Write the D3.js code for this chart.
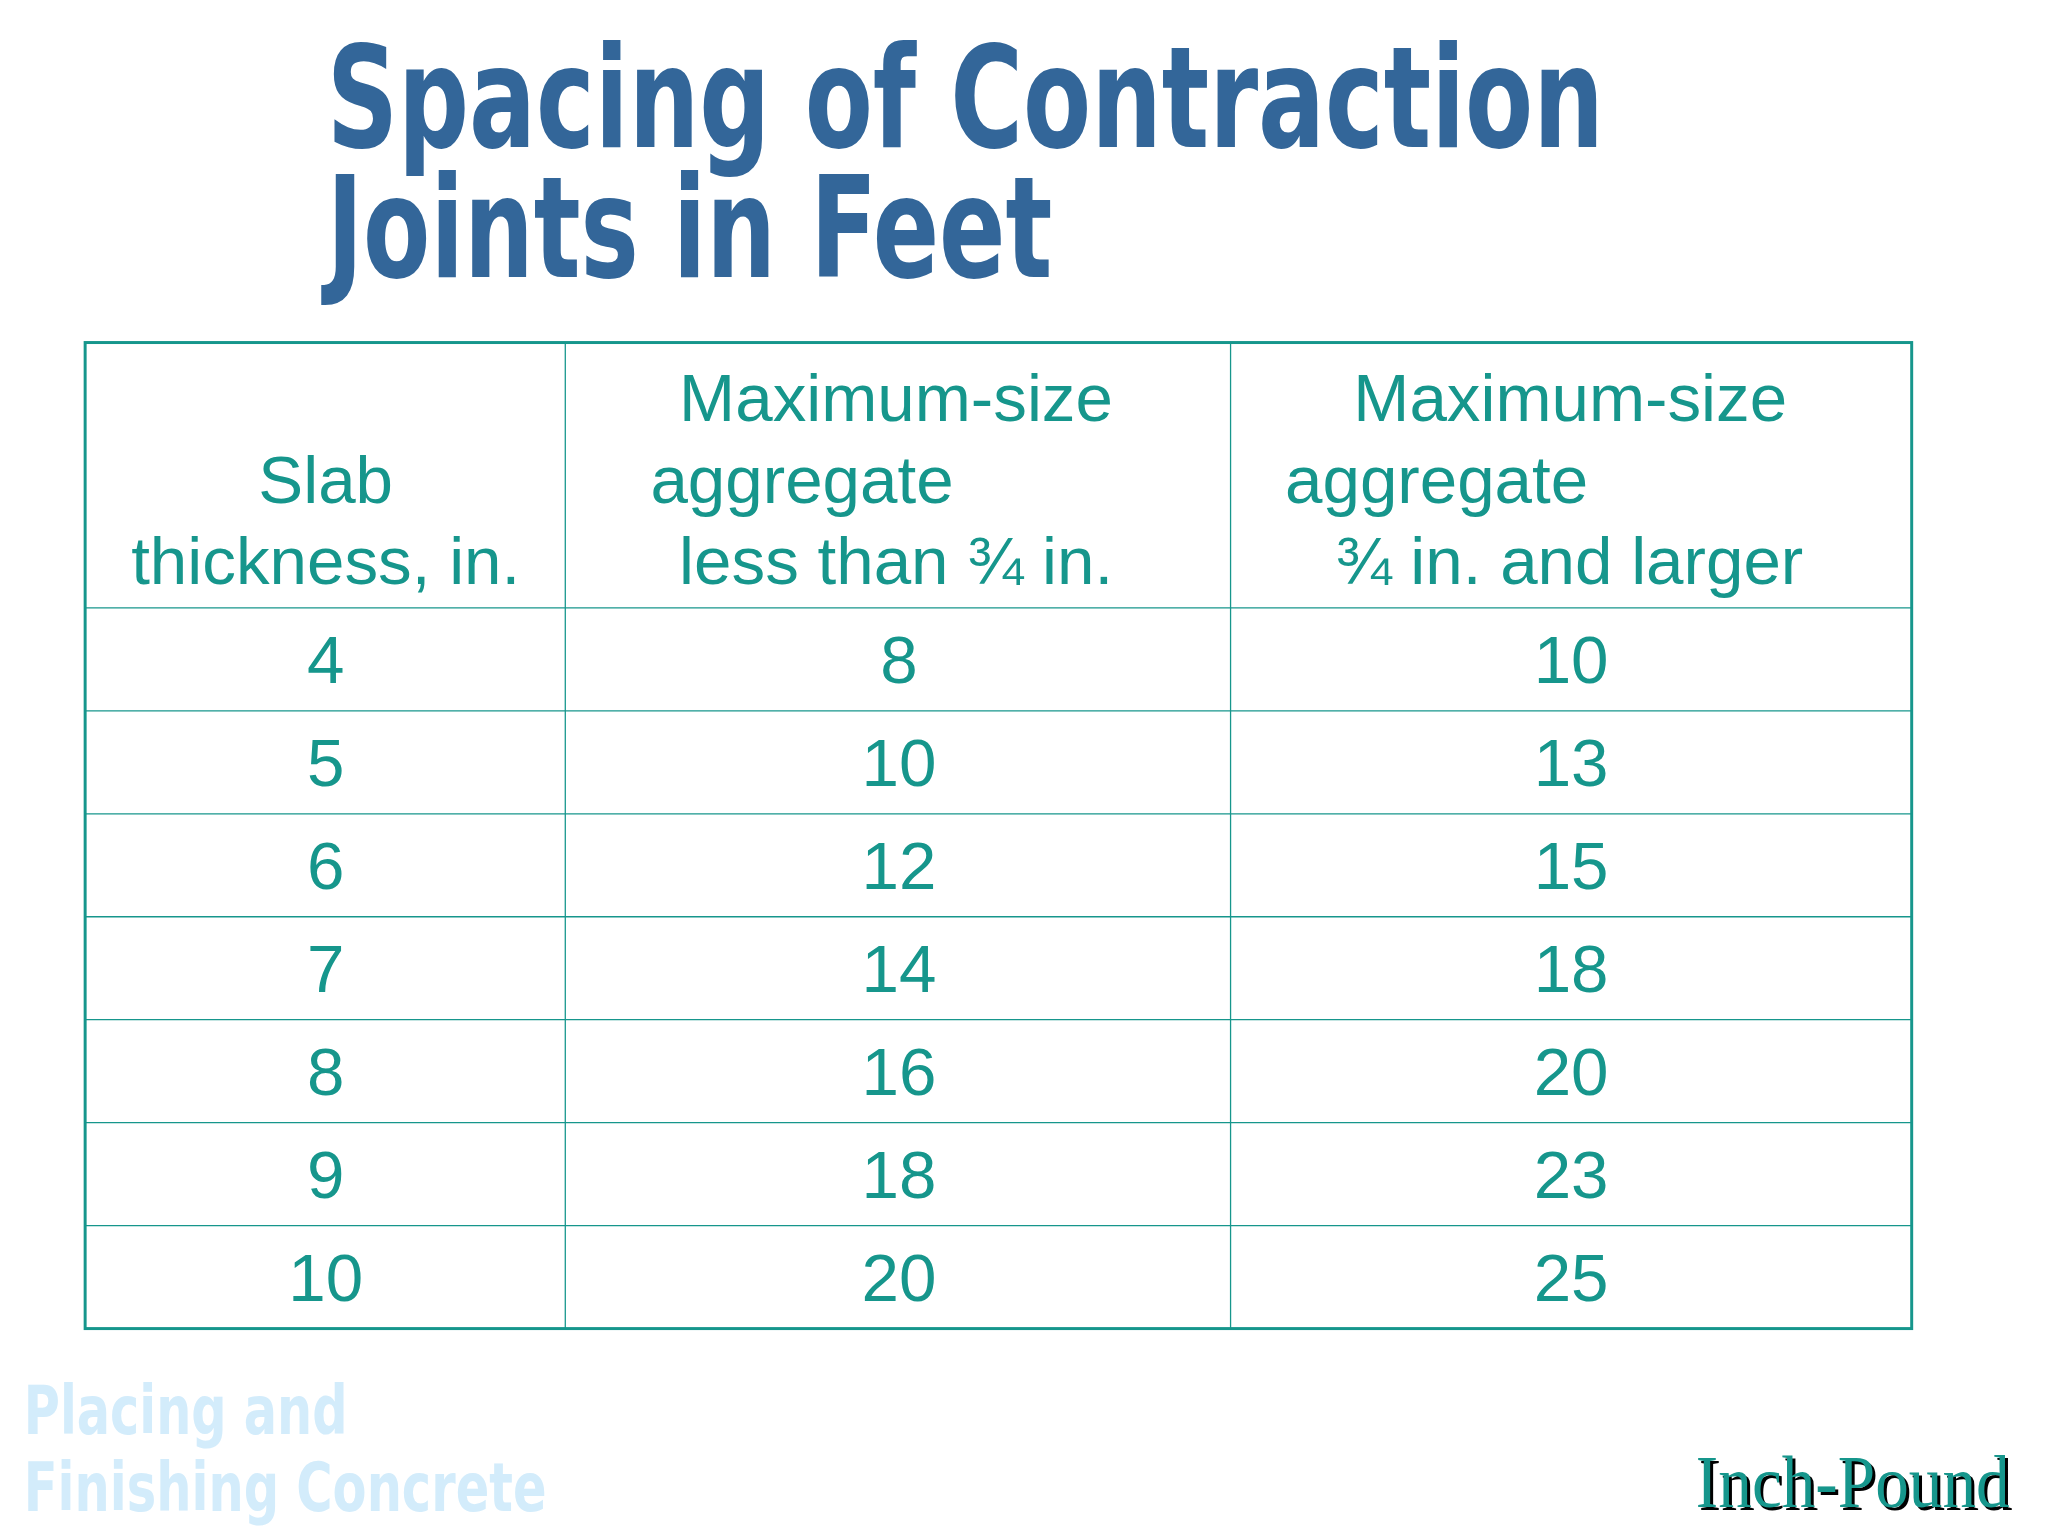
<!DOCTYPE html>
<html><head><meta charset="utf-8">
<script src="https://cdn.jsdelivr.net/npm/d3@7"></script>
<style>body{margin:0;background:#fff}</style></head>
<body><svg id="c" width="2048" height="1536"></svg>
<script>
const titleLines = ["Spacing of Contraction", "Joints in Feet"];
const headers = [
  ["Slab", "thickness, in."],
  ["Maximum-size", "aggregate", "less than ¾ in."],
  ["Maximum-size", "aggregate", "¾ in. and larger"]
];
const slab = [4, 5, 6, 7, 8, 9, 10];
const lessThan = [8, 10, 12, 14, 16, 18, 20];
const larger = [10, 13, 15, 18, 20, 23, 25];

const root = d3.select("#c").append("g").attr("transform", "scale(0.99)");
const svg = root;
const teal = "#16968c";
const tl = [{t: titleLines[0], y: 148, w: 1290}, {t: titleLines[1], y: 280, w: 733}];
svg.selectAll(".title").data(tl).join("text")
  .attr("x", 330).attr("y", d => d.y).text(d => d.t)
  .attr("font-family", "DejaVu Sans Condensed, DejaVu Sans").attr("font-weight", "bold")
  .attr("font-size", 142).attr("fill", "#336699")
  .attr("textLength", d => d.w).attr("lengthAdjust", "spacingAndGlyphs");

const xL = 86, xR = 1931, yT = 346, yH = 614, yB = 1342;
const cols = [xL, 571, 1243, xR];
const y = d3.scaleBand().domain(d3.range(slab.length)).range([yH, yB]);
const g = svg.append("g");
g.selectAll(".h").data(y.domain().slice(1)).join("line")
  .attr("x1", xL).attr("x2", xR).attr("y1", d => y(d)).attr("y2", d => y(d))
  .attr("stroke", teal).attr("stroke-width", 1.3);
g.append("line").attr("x1", xL).attr("x2", xR).attr("y1", yH).attr("y2", yH).attr("stroke", teal).attr("stroke-width", 1.3);
g.selectAll(".v").data(cols.slice(1, 3)).join("line")
  .attr("x1", d => d).attr("x2", d => d).attr("y1", yT).attr("y2", yB)
  .attr("stroke", teal).attr("stroke-width", 1.3);
g.append("rect").attr("x", xL).attr("y", yT).attr("width", xR - xL).attr("height", yB - yT)
  .attr("fill", "none").attr("stroke", teal).attr("stroke-width", 3);

const font = "Liberation Sans, Arial, sans-serif";
const hdrPos = [
  [{x: 329, a: "middle", y: 508}, {x: 329, a: "middle", y: 590}],
  [{x: 686, a: "start", y: 425}, {x: 657, a: "start", y: 508}, {x: 686, a: "start", y: 590}],
  [{x: 1367, a: "start", y: 425}, {x: 1298, a: "start", y: 508}, {x: 1349, a: "start", y: 590}]
];
headers.forEach((lines, i) => {
  g.selectAll(".hd" + i).data(lines).join("text")
    .attr("x", (d, j) => hdrPos[i][j].x).attr("y", (d, j) => hdrPos[i][j].y)
    .attr("text-anchor", (d, j) => hdrPos[i][j].a)
    .attr("font-family", font).attr("font-size", 68).attr("fill", teal).text(d => d);
});
const centers = [329, 908, 1587];
[slab, lessThan, larger].forEach((arr, i) => {
  g.selectAll(".d" + i).data(arr).join("text")
    .attr("x", centers[i]).attr("y", (d, k) => y(k) + y.bandwidth() / 2 + 24)
    .attr("text-anchor", "middle").attr("font-family", font).attr("font-size", 68)
    .attr("fill", teal).text(d => d);
});

const foot = [{t: "Placing and", y: 1448, w: 327}, {t: "Finishing Concrete", y: 1526, w: 528}];
svg.selectAll(".foot").data(foot).join("text")
  .attr("x", 24).attr("y", d => d.y).text(d => d.t)
  .attr("font-family", "DejaVu Sans Condensed, DejaVu Sans").attr("font-weight", "bold")
  .attr("font-size", 68).attr("fill", "#d3ecfb")
  .attr("textLength", d => d.w).attr("lengthAdjust", "spacingAndGlyphs");

[{dx: 3, c: "#000"}, {dx: 0, c: teal}].forEach(s => {
  svg.append("text").attr("x", 1713 + s.dx).attr("y", 1522 + s.dx).text("Inch-Pound")
    .attr("font-family", "Liberation Serif, serif").attr("font-size", 74).attr("fill", s.c)
    .attr("textLength", 317).attr("lengthAdjust", "spacingAndGlyphs");
});
</script></body></html>
